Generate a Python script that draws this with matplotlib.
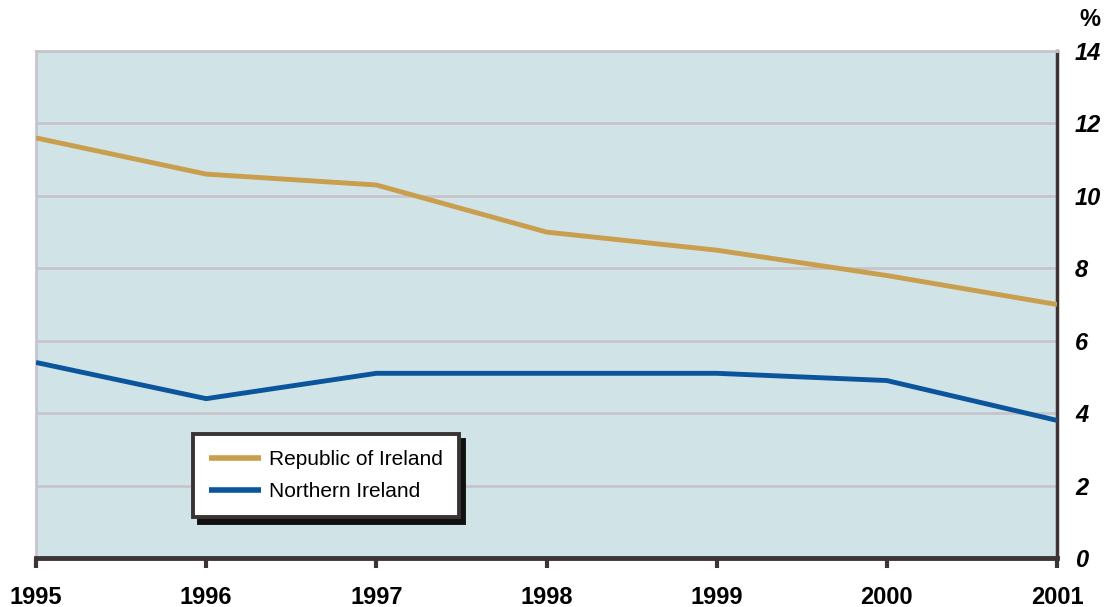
import matplotlib
matplotlib.use("Agg")
import matplotlib.pyplot as plt

years = [1995, 1996, 1997, 1998, 1999, 2000, 2001]
roi = [11.6, 10.6, 10.3, 9.0, 8.5, 7.8, 7.0]
ni = [5.4, 4.4, 5.1, 5.1, 5.1, 4.9, 3.8]
yticks = [0, 2, 4, 6, 8, 10, 12, 14]

plt.rcParams['font.family'] = ['Liberation Sans', 'DejaVu Sans']

fig = plt.figure(figsize=(11.09, 6.07), dpi=100)
ax = fig.add_axes([36/1109, 49/607, 1021/1109, 507/607])
ax.set_facecolor('#d0e3e6')

ax.plot(years, roi, color='#c99e4c', lw=3.5, label='Republic of Ireland', solid_capstyle='butt', zorder=3)
ax.plot(years, ni, color='#0a559c', lw=3.5, label='Northern Ireland', solid_capstyle='butt', zorder=3)

ax.set_xlim(1995, 2001)
ax.set_ylim(0, 14)
ax.set_yticks(yticks)
ax.grid(axis='y', color='#c8c4cc', lw=2)
ax.set_axisbelow(True)

ax.yaxis.tick_right()
ax.tick_params(axis='y', length=0, pad=13, labelsize=17)
for lbl in ax.get_yticklabels():
    lbl.set_fontweight('bold')
    lbl.set_fontstyle('italic')

ax.set_xticks(years)
ax.tick_params(axis='x', length=7, width=3, color='#3d3535', pad=13, labelsize=17, direction='out')
for lbl in ax.get_xticklabels():
    lbl.set_fontweight('bold')

for s in ['left', 'top']:
    ax.spines[s].set_color('#c8c4cc')
    ax.spines[s].set_linewidth(2)
ax.spines['bottom'].set_color('#3d3535')
ax.spines['bottom'].set_linewidth(3.5)
ax.spines['right'].set_color('#3d3535')
ax.spines['right'].set_linewidth(2.5)

fig.text(1090/1109, 1 - 20/607, '%', ha='center', va='center', fontsize=17, fontweight='bold')

leg = ax.legend(loc='lower left', bbox_to_anchor=((193-36)/1021, (558-517)/507), borderaxespad=0,
                fancybox=False, frameon=True, fontsize=15, handlelength=2.5, handletextpad=0.4,
                borderpad=0.75, labelspacing=0.65,
                shadow={'color': '#111111', 'alpha': 1, 'ox': 4, 'oy': -4})
leg.get_frame().set_edgecolor('#3a3333')
leg.get_frame().set_linewidth(2.8)
leg.get_frame().set_facecolor('white')
leg.get_frame().set_alpha(1)
for l in leg.get_lines():
    l.set_linewidth(4)

fig.savefig('out.png', dpi=100)
